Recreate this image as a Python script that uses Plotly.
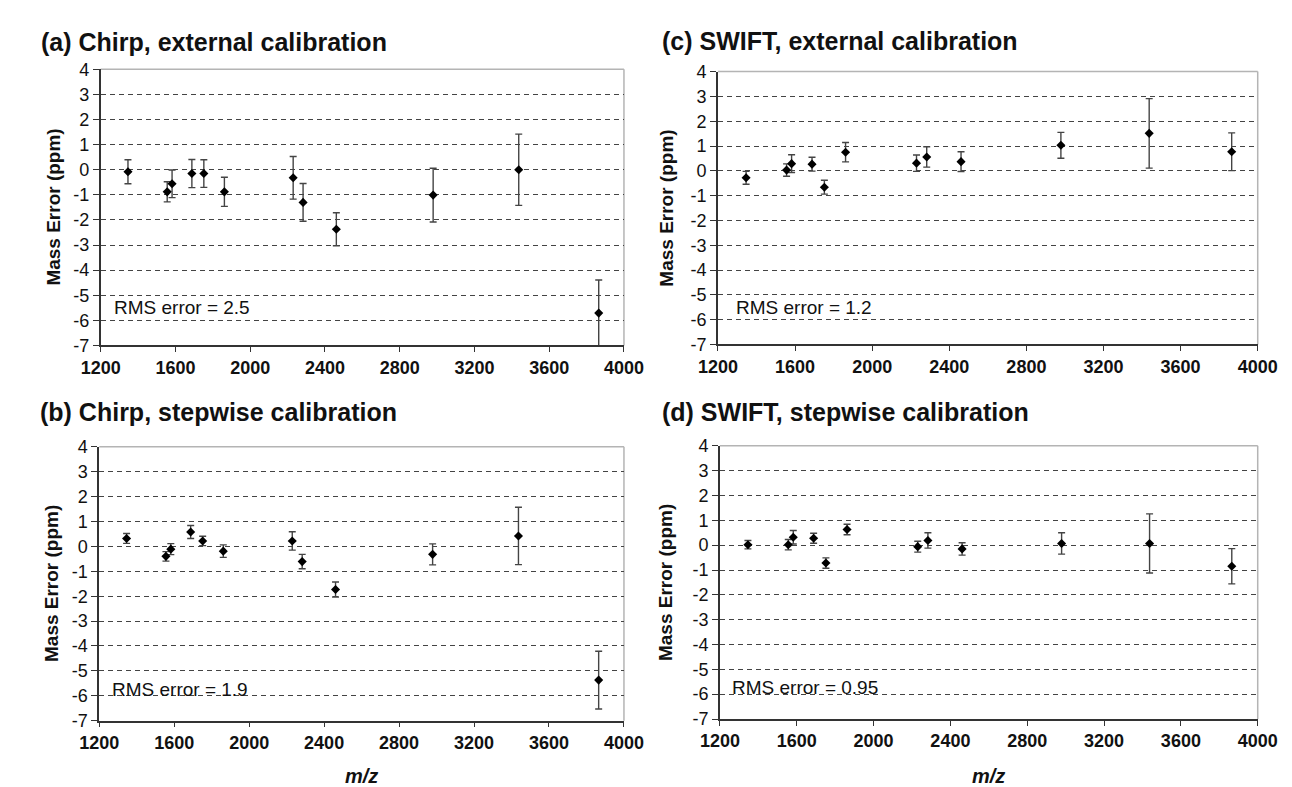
import plotly.graph_objects as go

# ---------------- data ----------------
mz = [1346, 1556, 1582, 1688, 1752, 1862, 2230, 2283, 2461, 2979, 3437, 3865]

chirp_ext = [-0.08, -0.88, -0.56, -0.15, -0.15, -0.88, -0.32, -1.30, -2.37, -1.01, 0.00, -5.71]
chirp_ext_err = [0.48, 0.40, 0.55, 0.56, 0.55, 0.58, 0.85, 0.75, 0.66, 1.07, 1.42, 1.32]

chirp_step = [0.32, -0.40, -0.11, 0.58, 0.22, -0.19, 0.22, -0.61, -1.73, -0.32, 0.42, -5.37]
chirp_step_err = [0.20, 0.19, 0.22, 0.26, 0.19, 0.25, 0.37, 0.29, 0.30, 0.42, 1.15, 1.16]

swift_ext = [-0.28, 0.03, 0.29, 0.27, -0.66, 0.75, 0.31, 0.56, 0.37, 1.03, 1.51, 0.77]
swift_ext_err = [0.26, 0.25, 0.36, 0.28, 0.28, 0.39, 0.33, 0.41, 0.40, 0.52, 1.40, 0.76]

swift_step = [0.02, 0.02, 0.32, 0.28, -0.72, 0.63, -0.06, 0.19, -0.15, 0.07, 0.07, -0.85]
swift_step_err = [0.17, 0.21, 0.27, 0.20, 0.21, 0.21, 0.22, 0.31, 0.25, 0.43, 1.19, 0.71]

panel_titles = ["(a) Chirp, external calibration", "(b) Chirp, stepwise calibration",
                "(c) SWIFT, external calibration", "(d) SWIFT, stepwise calibration"]
rms_labels = ["RMS error = 2.5", "RMS error = 1.9", "RMS error = 1.2", "RMS error = 0.95"]
x_ticks = [1200, 1600, 2000, 2400, 2800, 3200, 3600, 4000]
y_ticks = [-7, -6, -5, -4, -3, -2, -1, 0, 1, 2, 3, 4]
y_title = "Mass Error (ppm)"
x_title = "m/z"

# ---------------- layout geometry ----------------
W, H = 1292, 787
FONT = "Liberation Sans, Arial, sans-serif"

def px_x(p):
    return p / W

def px_y(p):
    return 1 - p / H

panels = [
    dict(y=chirp_ext, e=chirp_ext_err, xd=(75, 615), yd=(52.7, 336), tpos=(11, 24.5), rms=(1260, -5.47), ytx=26),
    dict(y=chirp_step, e=chirp_step_err, xd=(73.5, 615), yd=(440, 721), tpos=(10, 404), rms=(1258, -5.76), ytx=24),
    dict(y=swift_ext, e=swift_ext_err, xd=(712, 1269), yd=(55, 335), tpos=(652, 24), rms=(1285, -5.5), ytx=658),
    dict(y=swift_step, e=swift_step_err, xd=(714, 1269), yd=(439, 719.3), tpos=(652, 404), rms=(1255, -5.75), ytx=658),
]

fig = go.Figure()
layout = dict(
    width=W, height=H,
    margin=dict(l=0, r=0, t=0, b=0),
    paper_bgcolor="white", plot_bgcolor="white",
    showlegend=False,
    font=dict(family=FONT, color="#111"),
)
annotations = []
shapes = []

for i, p in enumerate(panels):
    n = "" if i == 0 else str(i + 1)
    xa, ya = "x" + n, "y" + n
    fig.add_trace(go.Scatter(
        x=mz, y=p["y"], xaxis=xa, yaxis=ya, mode="markers",
        marker=dict(symbol="diamond", size=7, color="#000"),
        error_y=dict(type="data", array=p["e"], visible=True, color="#444", thickness=1.4, width=3.5),
    ))
    layout["xaxis" + n] = dict(
        domain=[px_x(p["xd"][0]), px_x(p["xd"][1])], anchor=ya,
        range=[1200, 4000], tickvals=x_ticks, ticktext=[str(v) for v in x_ticks],
        showgrid=False, zeroline=False, showline=True, linecolor="#333", linewidth=1.6,
        ticks="outside", ticklen=5, tickcolor="#333", tickwidth=1.3,
        tickfont=dict(family=FONT, size=18, color="#111", weight="bold"),
    )
    layout["yaxis" + n] = dict(
        domain=[px_y(p["yd"][1]), px_y(p["yd"][0])], anchor=xa,
        range=[-7, 4], tickvals=y_ticks, ticktext=[str(v) for v in y_ticks],
        showgrid=True, gridcolor="#444", gridwidth=1.3, griddash="5px,4px",
        zeroline=False, showline=True, linecolor="#333", linewidth=1.6,
        ticks="outside", ticklen=6, tickcolor="#333", tickwidth=1.3,
        tickfont=dict(family=FONT, size=18, color="#111"),
    )
    shapes.append(dict(type="line", xref="paper", yref="paper",
                       x0=px_x(p["xd"][0]), x1=px_x(p["xd"][1]), y0=px_y(p["yd"][0]), y1=px_y(p["yd"][0]),
                       line=dict(color="#b4b4b4", width=1.5), layer="below"))
    shapes.append(dict(type="line", xref="paper", yref="paper",
                       x0=px_x(p["xd"][1]), x1=px_x(p["xd"][1]), y0=px_y(p["yd"][0]), y1=px_y(p["yd"][1]),
                       line=dict(color="#b4b4b4", width=1.5), layer="below"))
    annotations.append(dict(text="<b>" + panel_titles[i] + "</b>", xref="paper", yref="paper",
                            x=px_x(p["tpos"][0]), y=px_y(p["tpos"][1]), xanchor="left", yanchor="middle",
                            showarrow=False, font=dict(family=FONT, size=25, color="#111")))
    annotations.append(dict(text=rms_labels[i], xref=xa, yref=ya, x=p["rms"][0], y=p["rms"][1],
                            xanchor="left", yanchor="middle", showarrow=False,
                            font=dict(family=FONT, size=19, color="#111")))
    annotations.append(dict(text="<b>" + y_title + "</b>", xref="paper", yref="paper",
                            x=px_x(p["ytx"]), y=px_y((p["yd"][0] + p["yd"][1]) / 2),
                            xanchor="center", yanchor="middle", textangle=-90, showarrow=False,
                            font=dict(family=FONT, size=19, color="#111")))
    if i in (1, 3):
        annotations.append(dict(text="<b><i>" + x_title + "</i></b>", xref="paper", yref="paper",
                                x=px_x((p["xd"][0] + p["xd"][1]) / 2), y=px_y(778),
                                xanchor="center", yanchor="middle", showarrow=False,
                                font=dict(family=FONT, size=20, color="#111")))

layout["annotations"] = annotations
layout["shapes"] = shapes
fig.update_layout(**layout)
fig.write_html("out.html")
